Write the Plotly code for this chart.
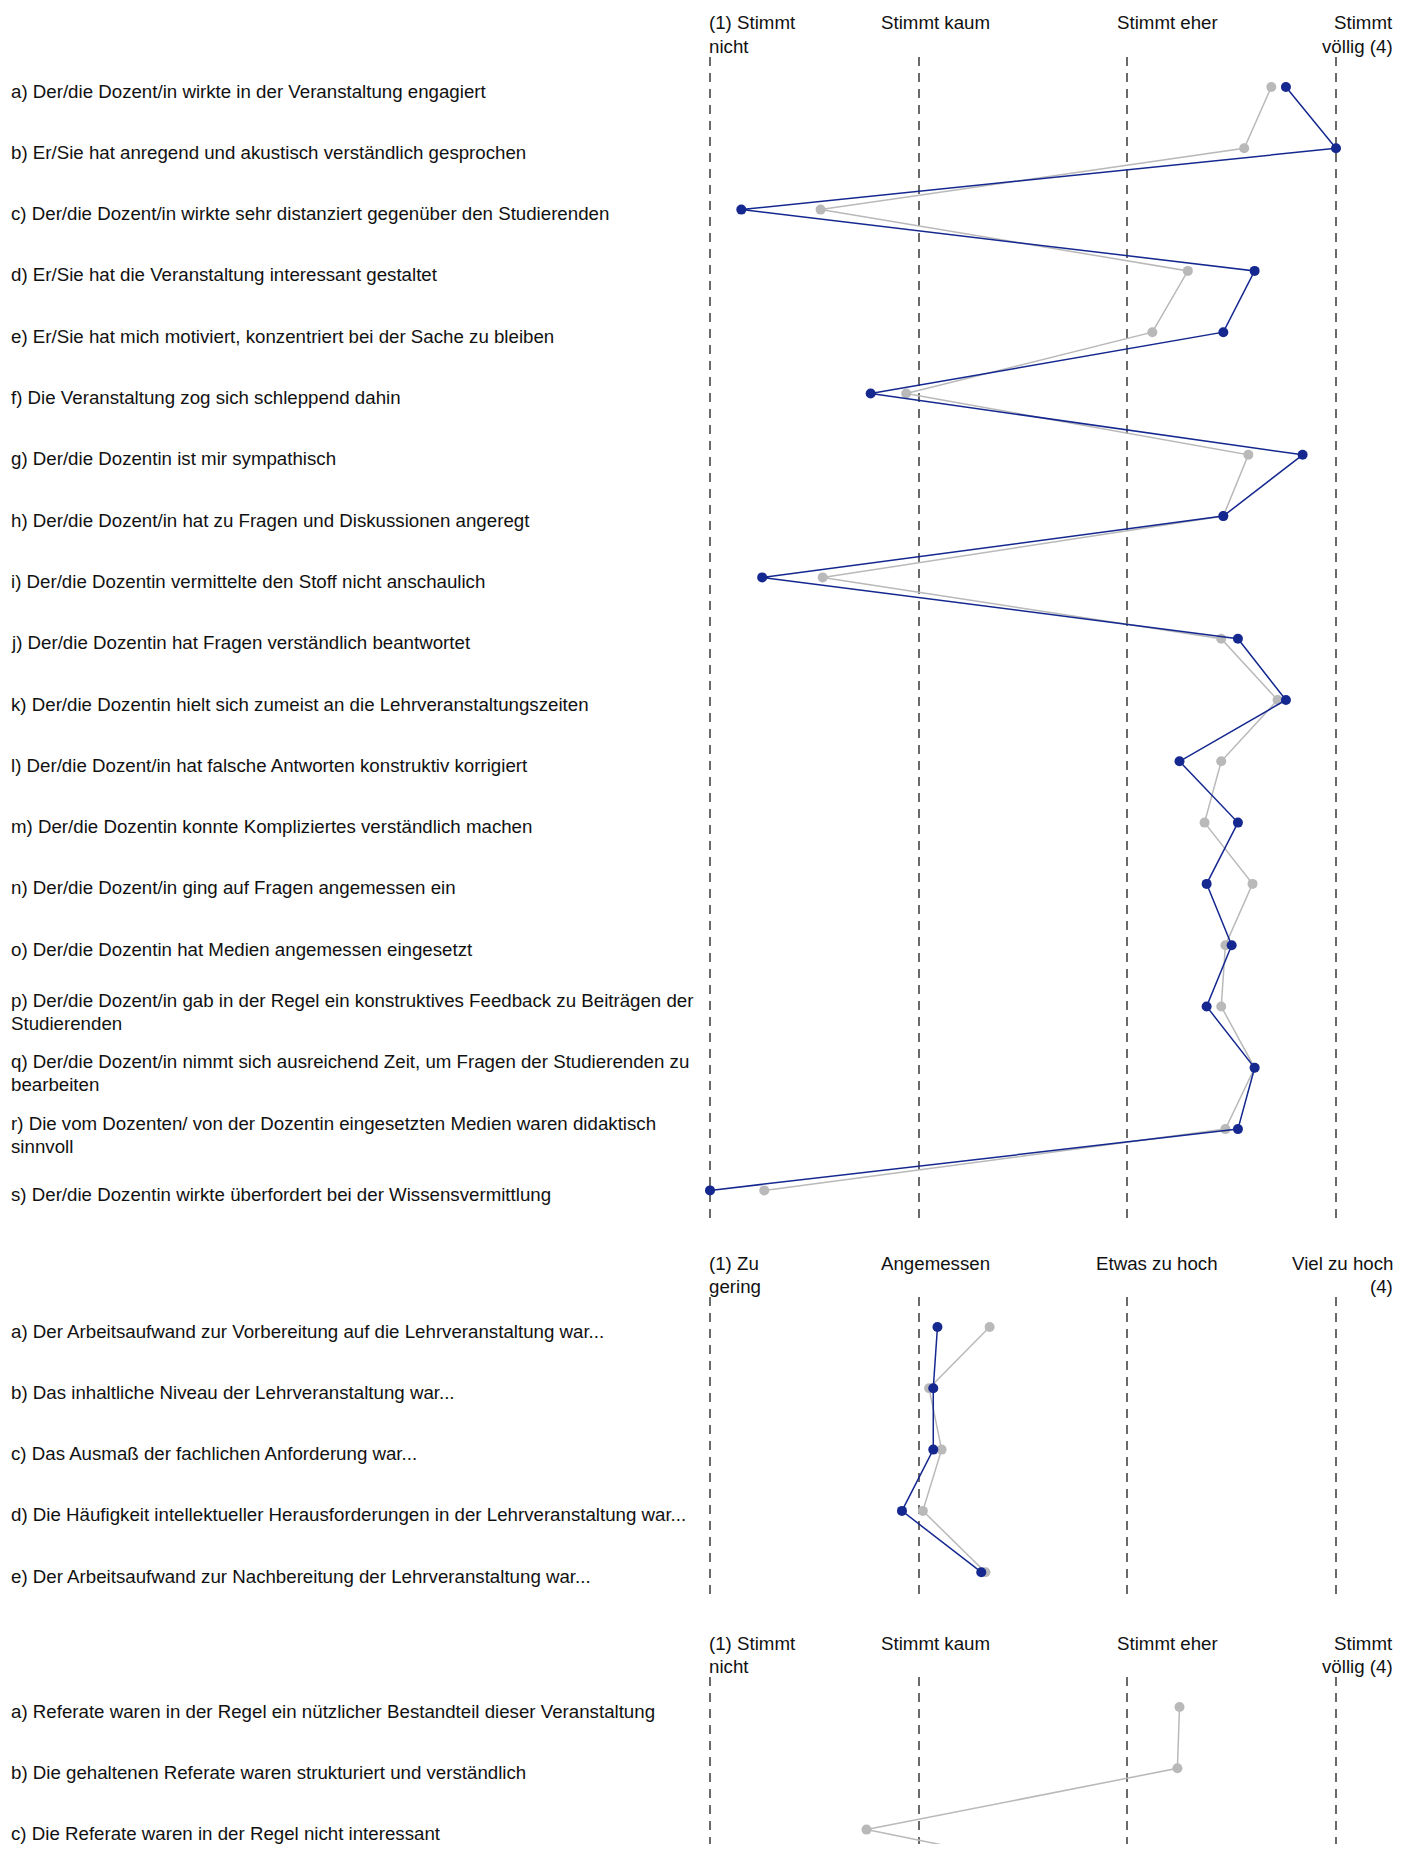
import plotly.graph_objects as go

# ---------------- data ----------------
labels1 = [
    "a) Der/die Dozent/in wirkte in der Veranstaltung engagiert",
    "b) Er/Sie hat anregend und akustisch verständlich gesprochen",
    "c) Der/die Dozent/in wirkte sehr distanziert gegenüber den Studierenden",
    "d) Er/Sie hat die Veranstaltung interessant gestaltet",
    "e) Er/Sie hat mich motiviert, konzentriert bei der Sache zu bleiben",
    "f) Die Veranstaltung zog sich schleppend dahin",
    "g) Der/die Dozentin ist mir sympathisch",
    "h) Der/die Dozent/in hat zu Fragen und Diskussionen angeregt",
    "i) Der/die Dozentin vermittelte den Stoff nicht anschaulich",
    "j) Der/die Dozentin hat Fragen verständlich beantwortet",
    "k) Der/die Dozentin hielt sich zumeist an die Lehrveranstaltungszeiten",
    "l) Der/die Dozent/in hat falsche Antworten konstruktiv korrigiert",
    "m) Der/die Dozentin konnte Kompliziertes verständlich machen",
    "n) Der/die Dozent/in ging auf Fragen angemessen ein",
    "o) Der/die Dozentin hat Medien angemessen eingesetzt",
    "p) Der/die Dozent/in gab in der Regel ein konstruktives Feedback zu Beiträgen der<br>Studierenden",
    "q) Der/die Dozent/in nimmt sich ausreichend Zeit, um Fragen der Studierenden zu<br>bearbeiten",
    "r) Die vom Dozenten/ von der Dozentin eingesetzten Medien waren didaktisch<br>sinnvoll",
    "s) Der/die Dozentin wirkte überfordert bei der Wissensvermittlung",
]
blue1 = [3.76, 4.00, 1.15, 3.61, 3.46, 1.77, 3.84, 3.46, 1.25, 3.53,
         3.76, 3.25, 3.53, 3.38, 3.50, 3.38, 3.61, 3.53, 1.00]
gray1 = [3.69, 3.56, 1.53, 3.29, 3.12, 1.94, 3.58, 3.46, 1.54, 3.45,
         3.72, 3.45, 3.37, 3.60, 3.47, 3.45, 3.61, 3.47, 1.26]

labels2 = [
    "a) Der Arbeitsaufwand zur Vorbereitung auf die Lehrveranstaltung war...",
    "b) Das inhaltliche Niveau der Lehrveranstaltung war...",
    "c) Das Ausmaß der fachlichen Anforderung war...",
    "d) Die Häufigkeit intellektueller Herausforderungen in der Lehrveranstaltung war...",
    "e) Der Arbeitsaufwand zur Nachbereitung der Lehrveranstaltung war...",
]
blue2 = [2.09, 2.07, 2.07, 1.92, 2.30]
gray2 = [2.34, 2.05, 2.11, 2.02, 2.32]

labels3 = [
    "a) Referate waren in der Regel ein nützlicher Bestandteil dieser Veranstaltung",
    "b) Die gehaltenen Referate waren strukturiert und verständlich",
    "c) Die Referate waren in der Regel nicht interessant",
]
# 4th value belongs to the next item, which lies below the visible area
gray3 = [3.25, 3.24, 1.75, 3.2]

header_agree = ["(1) Stimmt<br>nicht", "Stimmt kaum", "Stimmt eher", "Stimmt<br>völlig (4)"]
header_load = ["(1) Zu<br>gering", "Angemessen", "Etwas zu hoch", "Viel zu hoch<br>(4)"]
scale_ticks = [1, 2, 3, 4]

# ---------------- styling / geometry ----------------
W, H = 1396, 1836
OFF = 8                      # default body margin of the html page
FONT = "Liberation Sans, Arial, Helvetica, sans-serif"
FS = 18.7
BLUE = "#15288f"
GRAY = "#b9b9b9"
GRID = "#6a6a6a"
ROW = 61.3
LINE_H = 23

X1_PAGE, X4_PAGE = 710, 1336
DOM_L_PAGE, DOM_R_PAGE = 700, 1352
unit = (X4_PAGE - X1_PAGE) / 3.0
xrange_ = [1 - (X1_PAGE - DOM_L_PAGE) / unit, 4 + (DOM_R_PAGE - X4_PAGE) / unit]
xdomain = [(DOM_L_PAGE - OFF) / W, (DOM_R_PAGE - OFF) / W]

# (top, bottom) of each section's plotting area in page pixels
sections = [
    dict(labels=labels1, series=[gray1, blue1], header=header_agree, top=57, bottom=1218),
    dict(labels=labels2, series=[gray2, blue2], header=header_load, top=1297, bottom=1597),
    dict(labels=labels3, series=[gray3], header=header_agree, top=1677, bottom=1852),
]

def py(page_y):
    return 1 - (page_y - OFF) / H

def px(page_x):
    return (page_x - OFF) / W

fig = go.Figure()
annotations = []
layout_axes = {}
FIRST = 30

for k, sec in enumerate(sections, start=1):
    xa = "x" if k == 1 else f"x{k}"
    ya = "y" if k == 1 else f"y{k}"
    bottom = min(sec["bottom"], OFF + H)
    top = sec["top"]
    r_top = -FIRST / ROW
    r_bot = (bottom - top - FIRST) / ROW
    colors = [GRAY, BLUE] if len(sec["series"]) == 2 else [GRAY]
    for vals, col in zip(sec["series"], colors):
        fig.add_trace(go.Scatter(
            x=vals, y=list(range(len(vals))), mode="lines+markers",
            line=dict(color=col, width=1.5),
            marker=dict(color=col, size=10),
            xaxis=xa, yaxis=ya, showlegend=False, hoverinfo="x+y",
        ))
    xkey = "xaxis" if k == 1 else f"xaxis{k}"
    ykey = "yaxis" if k == 1 else f"yaxis{k}"
    layout_axes[xkey] = dict(
        domain=xdomain, range=xrange_, anchor=ya, tickvals=scale_ticks,
        showticklabels=False, showgrid=True, gridcolor=GRID, gridwidth=1.8,
        griddash="9px,7px", zeroline=False, showline=False, ticks="",
        fixedrange=True,
    )
    layout_axes[ykey] = dict(
        domain=[py(bottom), py(top)], range=[r_bot, r_top], anchor=xa,
        showticklabels=False, showgrid=False, zeroline=False, showline=False,
        fixedrange=True,
    )
    # row labels
    yref = "y" if k == 1 else f"y{k}"
    for i, lab in enumerate(sec["labels"]):
        parts = lab.split("<br>")
        if len(parts) == 1:
            shifts = [-4]
        else:
            shifts = [6 - j * LINE_H for j in range(len(parts))]
        for part, sh in zip(parts, shifts):
            annotations.append(dict(
                text=part, xref="paper", x=px(9), xanchor="left",
                yref=yref, y=i, yanchor="middle", yshift=sh,
                showarrow=False, font=dict(family=FONT, size=FS, color="#111111"),
            ))
    # header labels
    col_x = [(707, "left"), (879, "left"), (1220, "right"), (1395, "right")]
    for (hx, anc), txt in zip(col_x, sec["header"]):
        for j, part in enumerate(txt.split("<br>")):
            annotations.append(dict(
                text=part, xref="paper", x=px(hx), xanchor=anc,
                yref="paper", y=py(top - 34 + j * LINE_H), yanchor="middle",
                showarrow=False, font=dict(family=FONT, size=FS, color="#111111"),
            ))

fig.update_layout(
    width=W, height=H,
    margin=dict(l=0, r=0, t=0, b=0, pad=0),
    paper_bgcolor="white", plot_bgcolor="white",
    font=dict(family=FONT, size=FS, color="#111111"),
    annotations=annotations,
    **layout_axes,
)

fig.write_html("out.html")
